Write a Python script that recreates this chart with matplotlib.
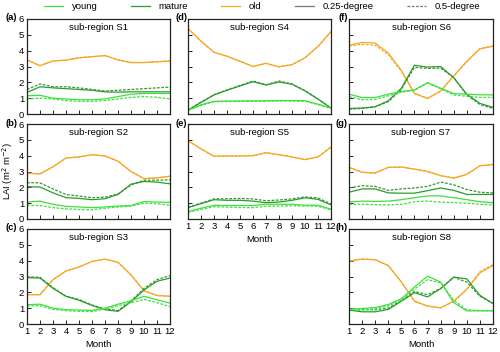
import matplotlib
matplotlib.use("Agg")
import matplotlib.pyplot as plt
from matplotlib.lines import Line2D

plt.rcParams['font.family'] = ['Liberation Sans', 'DejaVu Sans']

months = list(range(1, 13))
month_labels = [str(m) for m in months]
regions = ["S1", "S2", "S3", "S4", "S5", "S6", "S7", "S8"]
panel_letters = ["(a)", "(b)", "(c)", "(d)", "(e)", "(f)", "(g)", "(h)"]
y_ticks = [0, 1, 2, 3, 4, 5, 6]

# S1
young_025_S1 = [1.15, 1.18, 1.0, 0.95, 0.9, 0.9, 0.95, 1.1, 1.25, 1.3, 1.3, 1.3]
young_05_S1 = [0.95, 1.0, 0.95, 0.85, 0.8, 0.8, 0.85, 0.95, 1.05, 1.1, 1.05, 0.95]
mature_025_S1 = [1.36, 1.72, 1.65, 1.6, 1.55, 1.5, 1.4, 1.38, 1.4, 1.4, 1.4, 1.4]
mature_05_S1 = [1.55, 1.9, 1.72, 1.72, 1.65, 1.55, 1.45, 1.5, 1.55, 1.6, 1.65, 1.7]
old_025_S1 = [3.42, 3.05, 3.35, 3.4, 3.55, 3.62, 3.69, 3.42, 3.25, 3.25, 3.3, 3.35]
old_05_S1 = [3.42, 3.05, 3.35, 3.4, 3.55, 3.62, 3.69, 3.42, 3.25, 3.25, 3.3, 3.35]
# S2
young_025_S2 = [1.07, 1.13, 0.93, 0.8, 0.76, 0.72, 0.76, 0.82, 0.85, 1.1, 1.07, 1.05]
young_05_S2 = [0.87, 0.85, 0.72, 0.64, 0.6, 0.58, 0.68, 0.76, 0.82, 1.0, 0.97, 0.87]
mature_025_S2 = [2.04, 2.02, 1.65, 1.35, 1.3, 1.22, 1.28, 1.55, 2.2, 2.37, 2.33, 2.22]
mature_05_S2 = [2.3, 2.28, 1.9, 1.55, 1.45, 1.35, 1.38, 1.58, 2.15, 2.45, 2.45, 2.47]
old_025_S2 = [2.89, 2.85, 3.3, 3.85, 3.92, 4.06, 3.98, 3.65, 3.0, 2.55, 2.6, 2.7]
old_05_S2 = [2.89, 2.85, 3.3, 3.85, 3.92, 4.06, 3.98, 3.65, 3.0, 2.55, 2.6, 2.7]
# S3
young_025_S3 = [1.22, 1.25, 1.0, 0.9, 0.88, 0.86, 1.0, 1.25, 1.47, 1.75, 1.53, 1.32]
young_05_S3 = [1.15, 1.15, 0.92, 0.85, 0.8, 0.78, 0.95, 1.15, 1.35, 1.55, 1.35, 1.1]
mature_025_S3 = [2.93, 2.9, 2.25, 1.75, 1.5, 1.17, 0.9, 0.8, 1.4, 2.15, 2.7, 2.9]
mature_05_S3 = [2.98, 2.95, 2.3, 1.75, 1.55, 1.2, 0.95, 0.85, 1.45, 2.25, 2.8, 3.05]
old_025_S3 = [1.85, 1.85, 2.8, 3.35, 3.6, 3.95, 4.1, 3.9, 3.1, 2.1, 1.8, 1.75]
old_05_S3 = [1.85, 1.85, 2.8, 3.35, 3.6, 3.95, 4.1, 3.9, 3.1, 2.1, 1.8, 1.75]
# S4
young_025_S4 = [0.25, 0.58, 0.8, 0.82, 0.82, 0.83, 0.83, 0.85, 0.85, 0.84, 0.62, 0.38]
young_05_S4 = [0.22, 0.55, 0.78, 0.78, 0.8, 0.8, 0.8, 0.82, 0.82, 0.8, 0.6, 0.35]
mature_025_S4 = [0.25, 0.73, 1.2, 1.5, 1.77, 2.04, 1.83, 2.02, 1.88, 1.46, 0.94, 0.38]
mature_05_S4 = [0.25, 0.75, 1.22, 1.52, 1.8, 2.08, 1.85, 2.08, 1.9, 1.48, 0.95, 0.38]
old_025_S4 = [5.4, 4.6, 3.9, 3.65, 3.33, 3.0, 3.2, 2.98, 3.12, 3.55, 4.27, 5.2]
old_05_S4 = [5.4, 4.6, 3.9, 3.65, 3.33, 3.0, 3.2, 2.98, 3.12, 3.55, 4.27, 5.2]
# S5
young_025_S5 = [0.47, 0.68, 0.87, 0.85, 0.85, 0.85, 0.93, 0.93, 0.93, 0.87, 0.87, 0.62]
young_05_S5 = [0.43, 0.6, 0.78, 0.75, 0.72, 0.72, 0.8, 0.82, 0.83, 0.82, 0.8, 0.58]
mature_025_S5 = [0.72, 0.97, 1.22, 1.18, 1.18, 1.13, 1.03, 1.07, 1.18, 1.34, 1.24, 0.89]
mature_05_S5 = [0.75, 1.0, 1.27, 1.28, 1.3, 1.27, 1.15, 1.2, 1.27, 1.4, 1.33, 0.95]
old_025_S5 = [4.95, 4.43, 3.96, 3.98, 3.98, 4.0, 4.19, 4.06, 3.92, 3.75, 3.92, 4.54]
old_05_S5 = [4.95, 4.43, 3.96, 3.98, 3.98, 4.0, 4.19, 4.06, 3.92, 3.75, 3.92, 4.54]
# S6
young_025_S6 = [1.25, 1.04, 1.04, 1.25, 1.42, 1.52, 1.98, 1.63, 1.29, 1.25, 1.21, 1.21]
young_05_S6 = [1.1, 0.9, 0.92, 1.15, 1.38, 1.5, 1.95, 1.6, 1.2, 1.12, 1.05, 1.05]
mature_025_S6 = [0.35, 0.38, 0.46, 0.83, 1.63, 3.08, 2.96, 3.0, 2.29, 1.25, 0.67, 0.42]
mature_05_S6 = [0.3, 0.35, 0.45, 0.78, 1.55, 2.95, 2.88, 2.9, 2.3, 1.2, 0.6, 0.35]
old_025_S6 = [4.33, 4.52, 4.48, 3.85, 2.75, 1.3, 0.98, 1.46, 2.4, 3.33, 4.12, 4.27]
old_05_S6 = [4.3, 4.4, 4.35, 3.75, 2.7, 1.3, 0.98, 1.45, 2.4, 3.3, 4.12, 4.3]
# S7
young_025_S7 = [1.07, 1.13, 1.11, 1.13, 1.22, 1.34, 1.46, 1.46, 1.34, 1.22, 1.09, 1.03]
young_05_S7 = [0.93, 0.93, 0.91, 0.89, 0.93, 1.09, 1.13, 1.07, 1.03, 0.99, 0.93, 0.89]
mature_025_S7 = [1.69, 1.9, 1.9, 1.65, 1.63, 1.63, 1.79, 1.96, 1.81, 1.55, 1.55, 1.55]
mature_05_S7 = [1.96, 2.1, 2.06, 1.81, 1.9, 1.96, 2.06, 2.33, 2.16, 1.86, 1.69, 1.65]
old_025_S7 = [3.26, 2.95, 2.9, 3.26, 3.28, 3.15, 3.0, 2.74, 2.58, 2.82, 3.36, 3.44]
old_05_S7 = [3.26, 2.95, 2.9, 3.26, 3.28, 3.15, 3.0, 2.74, 2.58, 2.82, 3.36, 3.44]
# S8
young_025_S8 = [0.94, 0.98, 1.04, 1.23, 1.6, 2.33, 3.02, 2.65, 1.35, 0.83, 0.83, 0.83]
young_05_S8 = [0.9, 0.9, 0.95, 1.15, 1.5, 2.2, 2.8, 2.6, 1.5, 0.9, 0.85, 0.85]
mature_025_S8 = [0.88, 0.77, 0.77, 0.92, 1.44, 1.98, 1.71, 2.23, 2.96, 2.85, 1.81, 1.29]
mature_05_S8 = [0.85, 0.9, 0.9, 1.0, 1.48, 2.05, 1.85, 2.25, 2.95, 2.65, 1.75, 1.3]
old_025_S8 = [3.96, 4.1, 4.06, 3.69, 2.65, 1.44, 1.13, 1.02, 1.44, 2.19, 3.23, 3.69]
old_05_S8 = [4.0, 4.1, 4.06, 3.69, 2.65, 1.44, 1.13, 1.02, 1.44, 2.19, 3.3, 3.75]

data = {
    "S1": (young_025_S1, young_05_S1, mature_025_S1, mature_05_S1, old_025_S1, old_05_S1),
    "S2": (young_025_S2, young_05_S2, mature_025_S2, mature_05_S2, old_025_S2, old_05_S2),
    "S3": (young_025_S3, young_05_S3, mature_025_S3, mature_05_S3, old_025_S3, old_05_S3),
    "S4": (young_025_S4, young_05_S4, mature_025_S4, mature_05_S4, old_025_S4, old_05_S4),
    "S5": (young_025_S5, young_05_S5, mature_025_S5, mature_05_S5, old_025_S5, old_05_S5),
    "S6": (young_025_S6, young_05_S6, mature_025_S6, mature_05_S6, old_025_S6, old_05_S6),
    "S7": (young_025_S7, young_05_S7, mature_025_S7, mature_05_S7, old_025_S7, old_05_S7),
    "S8": (young_025_S8, young_05_S8, mature_025_S8, mature_05_S8, old_025_S8, old_05_S8),
}

c_young = "#3ee03e"
c_mature = "#2e9a2e"
c_old = "#f7a823"
lw = 0.9
dash = (0, (2.2, 1.2))
fs = 6.8

W, H = 500, 352
fig = plt.figure(figsize=(W / 100, H / 100), dpi=100)

cols = [(27, 170), (188, 331), (349, 493)]
rows = [(19, 114), (124, 219), (229, 324)]
layout = [(0, 0), (0, 1), (0, 2), (1, 0), (1, 1), (2, 0), (2, 1), (2, 2)]
bottom_row = {0: 2, 1: 1, 2: 2}

for i, reg in enumerate(regions):
    c, r = layout[i]
    x0, x1 = cols[c]
    y0, y1 = rows[r]
    ax = fig.add_axes([x0 / W, 1 - y1 / H, (x1 - x0) / W, (y1 - y0) / H])
    yg, yh, mg, mh, og, oh = data[reg]
    ax.plot(months, og, color=c_old, lw=lw)
    ax.plot(months, oh, color=c_old, lw=lw, linestyle=dash)
    ax.plot(months, mg, color=c_mature, lw=lw)
    ax.plot(months, mh, color=c_mature, lw=lw, linestyle=dash)
    ax.plot(months, yg, color=c_young, lw=lw)
    ax.plot(months, yh, color=c_young, lw=lw, linestyle=dash)
    ax.set_xlim(1, 12)
    ax.set_ylim(0, 6)
    ax.set_xticks(months)
    ax.set_yticks(y_ticks)
    ax.tick_params(direction='in', length=3, width=0.6, labelsize=fs, pad=2)
    for s in ax.spines.values():
        s.set_linewidth(0.9)
        s.set_color("#222222")
    if r == bottom_row[c]:
        ax.set_xticklabels(month_labels)
        ax.set_xlabel("Month", fontsize=fs, labelpad=3)
    else:
        ax.set_xticklabels([])
    if c == 0:
        ax.set_yticklabels([str(v) for v in y_ticks])
    else:
        ax.set_yticklabels([])
    if c == 0 and r == 1:
        ax.set_ylabel("LAI (m$^{2}$ m$^{-2}$)", fontsize=fs, labelpad=3)
    ax.text(0.5, 0.915, "sub-region " + reg, transform=ax.transAxes,
            ha='center', va='center', fontsize=fs)
    off = -10 if c == 0 else -1
    ax.annotate(panel_letters[i], xy=(0, 1), xycoords='axes fraction',
                xytext=(off, 1), textcoords='offset pixels',
                ha='right', va='center', fontsize=fs, fontweight='bold')

handles = [
    Line2D([], [], color=c_young, lw=lw),
    Line2D([], [], color=c_mature, lw=lw),
    Line2D([], [], color=c_old, lw=lw),
    Line2D([], [], color="#777777", lw=lw),
    Line2D([], [], color="#777777", lw=lw, linestyle=dash),
]
labels = ["young", "mature", "old", "0.25-degree", "0.5-degree"]
fig.legend(handles, labels, loc='center', bbox_to_anchor=(0.524, 1 - 6.5 / H),
           ncol=5, frameon=False, fontsize=fs, handlelength=2.0,
           handletextpad=0.9, columnspacing=3.55, borderpad=0, borderaxespad=0)

fig.savefig("out.png", dpi=100)
